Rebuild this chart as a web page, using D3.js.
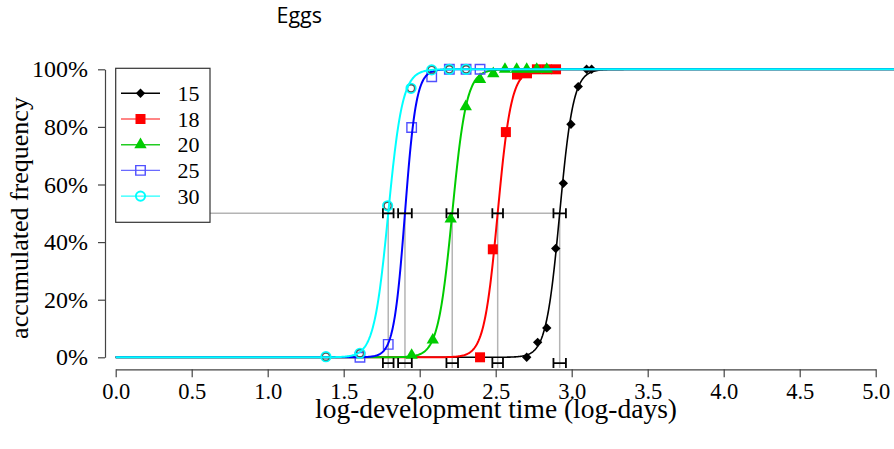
<!DOCTYPE html>
<html>
<head>
<meta charset="utf-8">
<script src="https://cdn.jsdelivr.net/npm/d3@7"></script>
<style>
  body { margin: 0; background: #fff; }
  svg { display: block; }
</style>
</head>
<body>
<div id="chart"></div>
<script>
// data (log-days vs accumulated frequency in %)
const temps = ['15', '18', '20', '25', '30'];
const logt15 = [2.704, 2.776, 2.836, 2.895, 2.945, 2.995, 3.043, 3.098, 3.131];
const freq15 = [0, 5.2, 10.2, 37.8, 60.4, 80.9, 94.0, 100, 100];
const logt18 = [2.397, 2.481, 2.567, 2.640, 2.706, 2.771, 2.836, 2.897];
const freq18 = [0, 37.5, 78.2, 98.2, 98.6, 100, 100, 100];
const logt20 = [1.947, 2.086, 2.204, 2.303, 2.397, 2.484, 2.561, 2.638, 2.704, 2.770, 2.836];
const freq20 = [0.7, 6.0, 48.0, 87.0, 96.5, 98.5, 100, 100, 100, 100, 100];
const logt25 = [1.607, 1.793, 1.947, 2.079, 2.195, 2.305, 2.397];
const freq25 = [0, 4.5, 79.8, 97.4, 100, 100, 100];
const logt30 = [1.383, 1.607, 1.789, 1.943, 2.079, 2.195, 2.305];
const freq30 = [0.2, 1.4, 52.6, 93.4, 99.8, 100, 100];

// fitted logistic: 50% point, its interval, and scale
const lt50 = [2.921, 2.513, 2.214, 1.903, 1.793];
const ci50 = [0.041, 0.035, 0.038, 0.045, 0.035];
const scaleFit = [0.045, 0.045, 0.047, 0.037, 0.047];

const xTicks = [0, 0.5, 1, 1.5, 2, 2.5, 3, 3.5, 4, 4.5, 5];
const yTicks = [0, 20, 40, 60, 80, 100];

const logts = [logt15, logt18, logt20, logt25, logt30];
const freqs = [freq15, freq18, freq20, freq25, freq30];

// styles
const curveCol = ['#000000', '#ff0000', '#00cc00', '#0000ff', '#00ffff'];
const legendCol = ['#000000', '#ff5c5c', '#22cc22', '#6a6aff', '#22ffff'];
const serif = '"Liberation Serif", "Times New Roman", serif';

const W = 894, H = 449;
const svg = d3.select('#chart').append('svg')
  .attr('width', W).attr('height', H);

const x = d3.scaleLinear().domain([0, 5]).range([115.7, 875.7]);
const y = d3.scaleLinear().domain([0, 100]).range([357.3, 69.3]);

// title
svg.append('text')
  .attr('x', 276.5).attr('y', 23)
  .style('font-family', '"Open Sans", sans-serif')
  .style('font-size', '21.5px')
  .text('Eggs');

// axes
const yAxis = svg.append('g')
  .attr('transform', 'translate(105,0)')
  .call(d3.axisLeft(y).tickValues(yTicks).tickFormat(d => d + '%').tickSize(7).tickSizeOuter(0).tickPadding(10));
const xAxis = svg.append('g')
  .attr('transform', 'translate(0,369.3)')
  .call(d3.axisBottom(x).tickValues(xTicks).tickFormat(d3.format('.1f')).tickSize(8).tickSizeOuter(0).tickPadding(6));
[yAxis, xAxis].forEach(g => {
  g.selectAll('path, line').attr('stroke', '#444').attr('stroke-width', 1.2);
  g.selectAll('text')
    .attr('fill', '#000')
    .style('font-family', serif)
    .style('font-size', '24px');
});
xAxis.selectAll('text').style('font-size', '22.5px');

svg.append('text')
  .attr('transform', 'translate(28,218) rotate(-90)')
  .attr('text-anchor', 'middle')
  .style('font-family', serif)
  .style('font-size', '26px')
  .text('accumulated frequency');
svg.append('text')
  .attr('x', 496).attr('y', 418)
  .attr('text-anchor', 'middle')
  .style('font-family', serif)
  .style('font-size', '27.5px')
  .text('log-development time (log-days)');

// gray reference lines at 50%
const plot = svg.append('g');
plot.append('line')
  .attr('x1', x(0)).attr('x2', x(d3.max(lt50)))
  .attr('y1', y(50)).attr('y2', y(50))
  .attr('stroke', '#b4b4b4').attr('stroke-width', 1.5);
lt50.forEach(m => {
  plot.append('line')
    .attr('x1', x(m)).attr('x2', x(m))
    .attr('y1', y(50)).attr('y2', 368)
    .attr('stroke', '#b4b4b4').attr('stroke-width', 1.5);
});

// markers
function marker(g, i, px, py, legend) {
  if (i === 0) {
    g.append('path').attr('d', d3.symbol(d3.symbolSquare, 44)())
      .attr('transform', `translate(${px},${py}) rotate(45)`).attr('fill', '#000');
  } else if (i === 1) {
    g.append('path').attr('d', d3.symbol(d3.symbolSquare, 100)())
      .attr('transform', `translate(${px},${py})`).attr('fill', '#ff0000');
  } else if (i === 2) {
    g.append('path').attr('d', d3.symbol(d3.symbolTriangle, 66)())
      .attr('transform', `translate(${px},${py})`).attr('fill', '#00cc00');
  } else if (i === 3) {
    g.append('path').attr('d', d3.symbol(d3.symbolSquare, 90)())
      .attr('transform', `translate(${px},${py})`)
      .attr('fill', 'none').attr('stroke', '#5050ff').attr('stroke-width', 1.4);
  } else {
    g.append('circle').attr('cx', px).attr('cy', py).attr('r', 4.6)
      .attr('fill', 'none').attr('stroke', '#00ffff').attr('stroke-width', 2);
    if (!legend) {
      g.append('circle').attr('cx', px).attr('cy', py).attr('r', 3.4)
        .attr('fill', 'none').attr('stroke', '#555').attr('stroke-width', 1.1);
    }
  }
}

const curveX = d3.range(0, 5.25, 0.004);
const line = d3.line().x(d => x(d[0])).y(d => y(d[1]));

temps.forEach((t, i) => {
  const g = plot.append('g');
  logts[i].forEach((lx, j) => marker(g, i, x(lx), y(freqs[i][j]), false));
  const fit = curveX.map(v => [v, 100 / (1 + Math.exp(-(v - lt50[i]) / scaleFit[i]))]);
  g.append('path').datum(fit)
    .attr('d', line)
    .attr('fill', 'none')
    .attr('stroke', curveCol[i])
    .attr('stroke-width', i === 0 ? 1.6 : 2);
});

// interval bars at 50% and below the axis
const bars = svg.append('g').attr('stroke', '#000').attr('stroke-width', 1.8).attr('fill', 'none');
lt50.forEach((m, i) => {
  [y(50), y(-2)].forEach(by => {
    const x0 = x(m - ci50[i]), x1 = x(m + ci50[i]);
    bars.append('path').attr('d', `M${x0},${by}H${x1}M${x0},${by - 5}V${by + 5}M${x1},${by - 5}V${by + 5}`);
  });
});

// legend
const leg = svg.append('g');
leg.append('rect')
  .attr('x', 115.7).attr('y', 68.3).attr('width', 94.3).attr('height', 154)
  .attr('fill', '#fff').attr('stroke', '#333').attr('stroke-width', 1.2);
temps.forEach((t, i) => {
  const ly = 93.3 + i * 25.7;
  leg.append('line').attr('x1', 121).attr('x2', 160).attr('y1', ly).attr('y2', ly)
    .attr('stroke', legendCol[i]).attr('stroke-width', 1.4);
  marker(leg, i, 140.5, ly, true);
  leg.append('text')
    .attr('x', 199.5).attr('y', ly + 7.5)
    .attr('text-anchor', 'end')
    .style('font-family', serif)
    .style('font-size', '22px')
    .text(t);
});
</script>
</body>
</html>
